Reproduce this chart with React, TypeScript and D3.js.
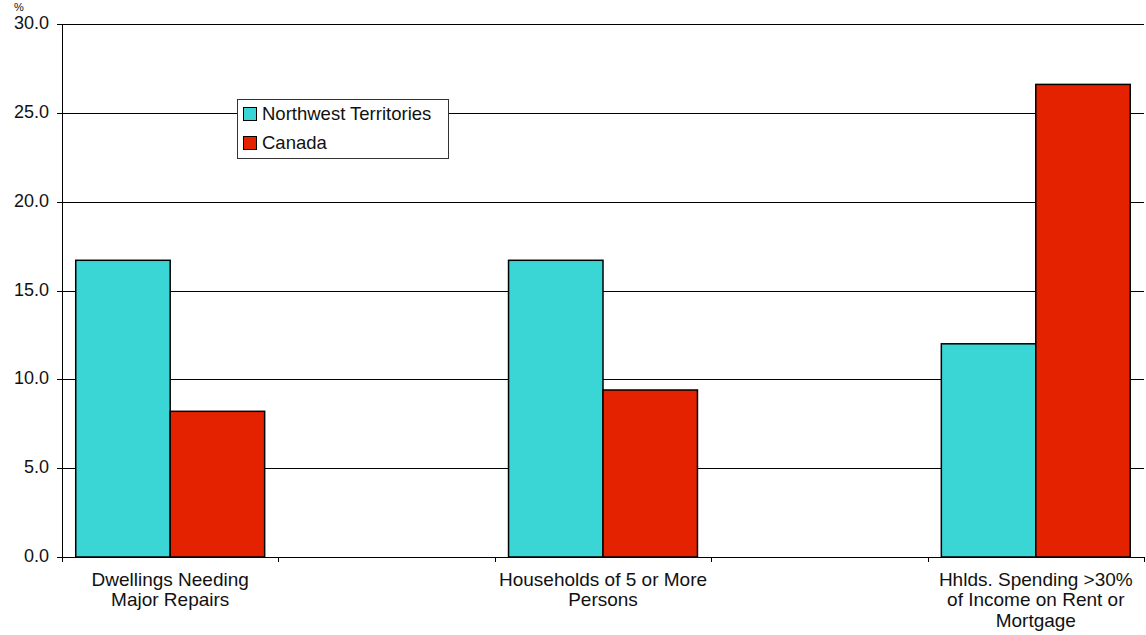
import React from "react";
import * as d3 from "d3";

const categories = [
  ["Dwellings Needing", "Major Repairs"],
  ["Households of 5 or More", "Persons"],
  ["Hhlds. Spending >30%", "of Income on Rent or", "Mortgage"],
];
const seriesNames = ["Northwest Territories", "Canada"];
const nwtValues = [16.7, 16.7, 12.0];
const canadaValues = [8.2, 9.4, 26.6];
const yTicks = [0, 5, 10, 15, 20, 25, 30];
const colors = ["#3AD5D5", "#E52200"];

const W = 1146;
const H = 635;
const left = 62;
const right = 1144;
const top = 24;
const bottom = 557;
const FONT = "'Liberation Sans', Arial, Helvetica, sans-serif";

export default function App() {
  // 5 slots: categories sit in slots 0, 2, 4 with empty slots between
  const slots = d3.range(5);
  const x = d3.scaleBand<number>().domain(slots).range([left, right]).padding(0);
  const catSlot = [0, 2, 4];
  const y = d3.scaleLinear().domain([0, 30]).range([bottom, top]);
  const bw = x.bandwidth();
  const barW = bw * 0.4365;
  const series = [nwtValues, canadaValues];

  return (
    <svg
      width={W}
      height={H}
      style={{ position: "absolute", left: 0, top: 0, background: "#fff" }}
      fontFamily={FONT}
    >
      <rect x={0} y={0} width={W} height={H} fill="#fff" />
      {/* gridlines */}
      {yTicks.map((t) => (
        <line
          key={"g" + t}
          x1={left - 5}
          x2={right}
          y1={Math.round(y(t)) + 0.5}
          y2={Math.round(y(t)) + 0.5}
          stroke="#000"
          strokeWidth={1}
        />
      ))}
      {/* y tick labels */}
      {yTicks.map((t) => (
        <text
          key={"t" + t}
          x={49}
          y={Math.round(y(t)) + 4.5}
          textAnchor="end"
          fontSize={18}
          fill="#111"
        >
          {t.toFixed(1)}
        </text>
      ))}
      <text x={14} y={10.5} fontSize={11} fill="#111">%</text>
      {/* bars */}
      {categories.map((c, i) => {
        const cx = (x(catSlot[i]) as number) + bw / 2;
        return series.map((vals, s) => (
          <rect
            key={"b" + i + "-" + s}
            x={cx - barW + s * barW}
            y={y(vals[i])}
            width={barW}
            height={y(0) - y(vals[i])}
            fill={colors[s]}
            stroke="#000"
            strokeWidth={1.5}
          />
        ));
      })}
      {/* y axis */}
      <line x1={left + 0.5} x2={left + 0.5} y1={top} y2={bottom + 0.5} stroke="#000" strokeWidth={1} />
      {/* x ticks */}
      {d3.range(6).map((k) => {
        const xx = Math.round(left + k * bw) + 0.5;
        return (
          <line key={"xt" + k} x1={xx} x2={xx} y1={bottom} y2={bottom + 5} stroke="#000" strokeWidth={1} />
        );
      })}
      {/* category labels */}
      {categories.map((lines, i) => {
        const cx = (x(catSlot[i]) as number) + bw / 2;
        return (
          <text key={"c" + i} textAnchor="middle" fontSize={19} fill="#111">
            {lines.map((ln, j) => (
              <tspan key={j} x={cx} y={585.5 + j * 20.5}>
                {ln}
              </tspan>
            ))}
          </text>
        );
      })}
      {/* legend */}
      <rect x={237.5} y={99.5} width={211} height={59} fill="#fff" stroke="#333" strokeWidth={1} />
      {seriesNames.map((n, s) => (
        <g key={"l" + s}>
          <rect
            x={243.5}
            y={107.5 + s * 29}
            width={13}
            height={13}
            fill={colors[s]}
            stroke="#000"
            strokeWidth={1}
          />
          <text x={262} y={119.5 + s * 29} fontSize={18.5} fill="#111">
            {n}
          </text>
        </g>
      ))}
    </svg>
  );
}
